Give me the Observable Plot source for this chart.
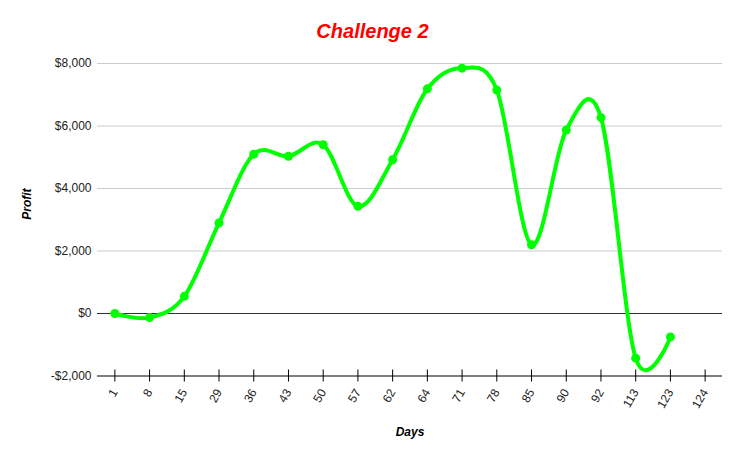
<!DOCTYPE html>
<html>
<head>
<meta charset="utf-8">
<script src="https://cdn.jsdelivr.net/npm/d3@7"></script>
<script src="https://cdn.jsdelivr.net/npm/@observablehq/plot@0.6"></script>
<style>
  html, body { margin: 0; padding: 0; background: #fff; }
  #wrap { width: 745px; height: 457px; position: relative; font-family: "Liberation Sans", Arial, sans-serif; }
  #title { height: 46px; width: 745px; text-align: center; color: #ff0000; font-weight: bold; font-style: italic; font-size: 20px; line-height: 20px; box-sizing: border-box; padding-top: 21px; }
</style>
</head>
<body>
<div id="wrap">
  <div id="title">Challenge 2</div>
  <div id="chart"></div>
</div>
<script>
const days = ["1","8","15","29","36","43","50","57","62","64","71","78","85","90","92","113","123","124"];
const profit = [0, -130, 550, 2900, 5100, 5030, 5400, 3430, 4920, 7190, 7850, 7150, 2200, 5870, 6270, -1430, -750, null];
const yTicks = [-2000, 0, 2000, 4000, 6000, 8000];

const data = days.map((d, i) => ({day: d, profit: profit[i]}));
const pts = data.filter(d => d.profit != null);

const fmt = v => (v < 0 ? "-$" : "$") + d3.format(",")(Math.abs(v));

const chart = Plot.plot({
  width: 745,
  height: 411,
  marginTop: 17,
  marginBottom: 81.5,
  marginLeft: 97,
  marginRight: 23,
  style: {fontFamily: "Liberation Sans, Arial, sans-serif", fontSize: "12px", color: "#222", background: "#fff"},
  x: {type: "point", domain: days, padding: 0.5, round: false},
  y: {domain: [-2000, 8000]},
  marks: [
    Plot.ruleY(yTicks.filter(v => v !== 0 && v !== -2000), {stroke: "#cccccc", strokeWidth: 1}),
    Plot.ruleY([0], {stroke: "#333333", strokeWidth: 1}),
    Plot.ruleY([-2000], {stroke: "#000000", strokeWidth: 1.2}),
    Plot.axisY({ticks: yTicks, tickSize: 0, tickPadding: 6, tickFormat: fmt, label: null, fill: "#222", fontSize: 12}),
    Plot.axisX({tickSize: 12, dy: -6, text: null, label: null, stroke: "#000"}),
    Plot.axisX({tickSize: 0, tickPadding: 14, tickRotate: -60, label: null, fill: "#222", fontSize: 12}),
    Plot.text(["Profit"], {frameAnchor: "left", dx: -70, rotate: -90, fontWeight: "bold", fontStyle: "italic", fontSize: 12, fill: "#000"}),
    Plot.text(["Days"], {frameAnchor: "bottom", dy: 60, fontWeight: "bold", fontStyle: "italic", fontSize: 12, fill: "#000"}),
    Plot.line(pts, {x: "day", y: "profit", stroke: "#00ff00", strokeWidth: 4, curve: "cardinal", tension: 0}),
    Plot.dot(pts, {x: "day", y: "profit", r: 4.5, fill: "#00ff00", stroke: "none"})
  ]
});
document.getElementById("chart").appendChild(chart);
</script>
</body>
</html>
